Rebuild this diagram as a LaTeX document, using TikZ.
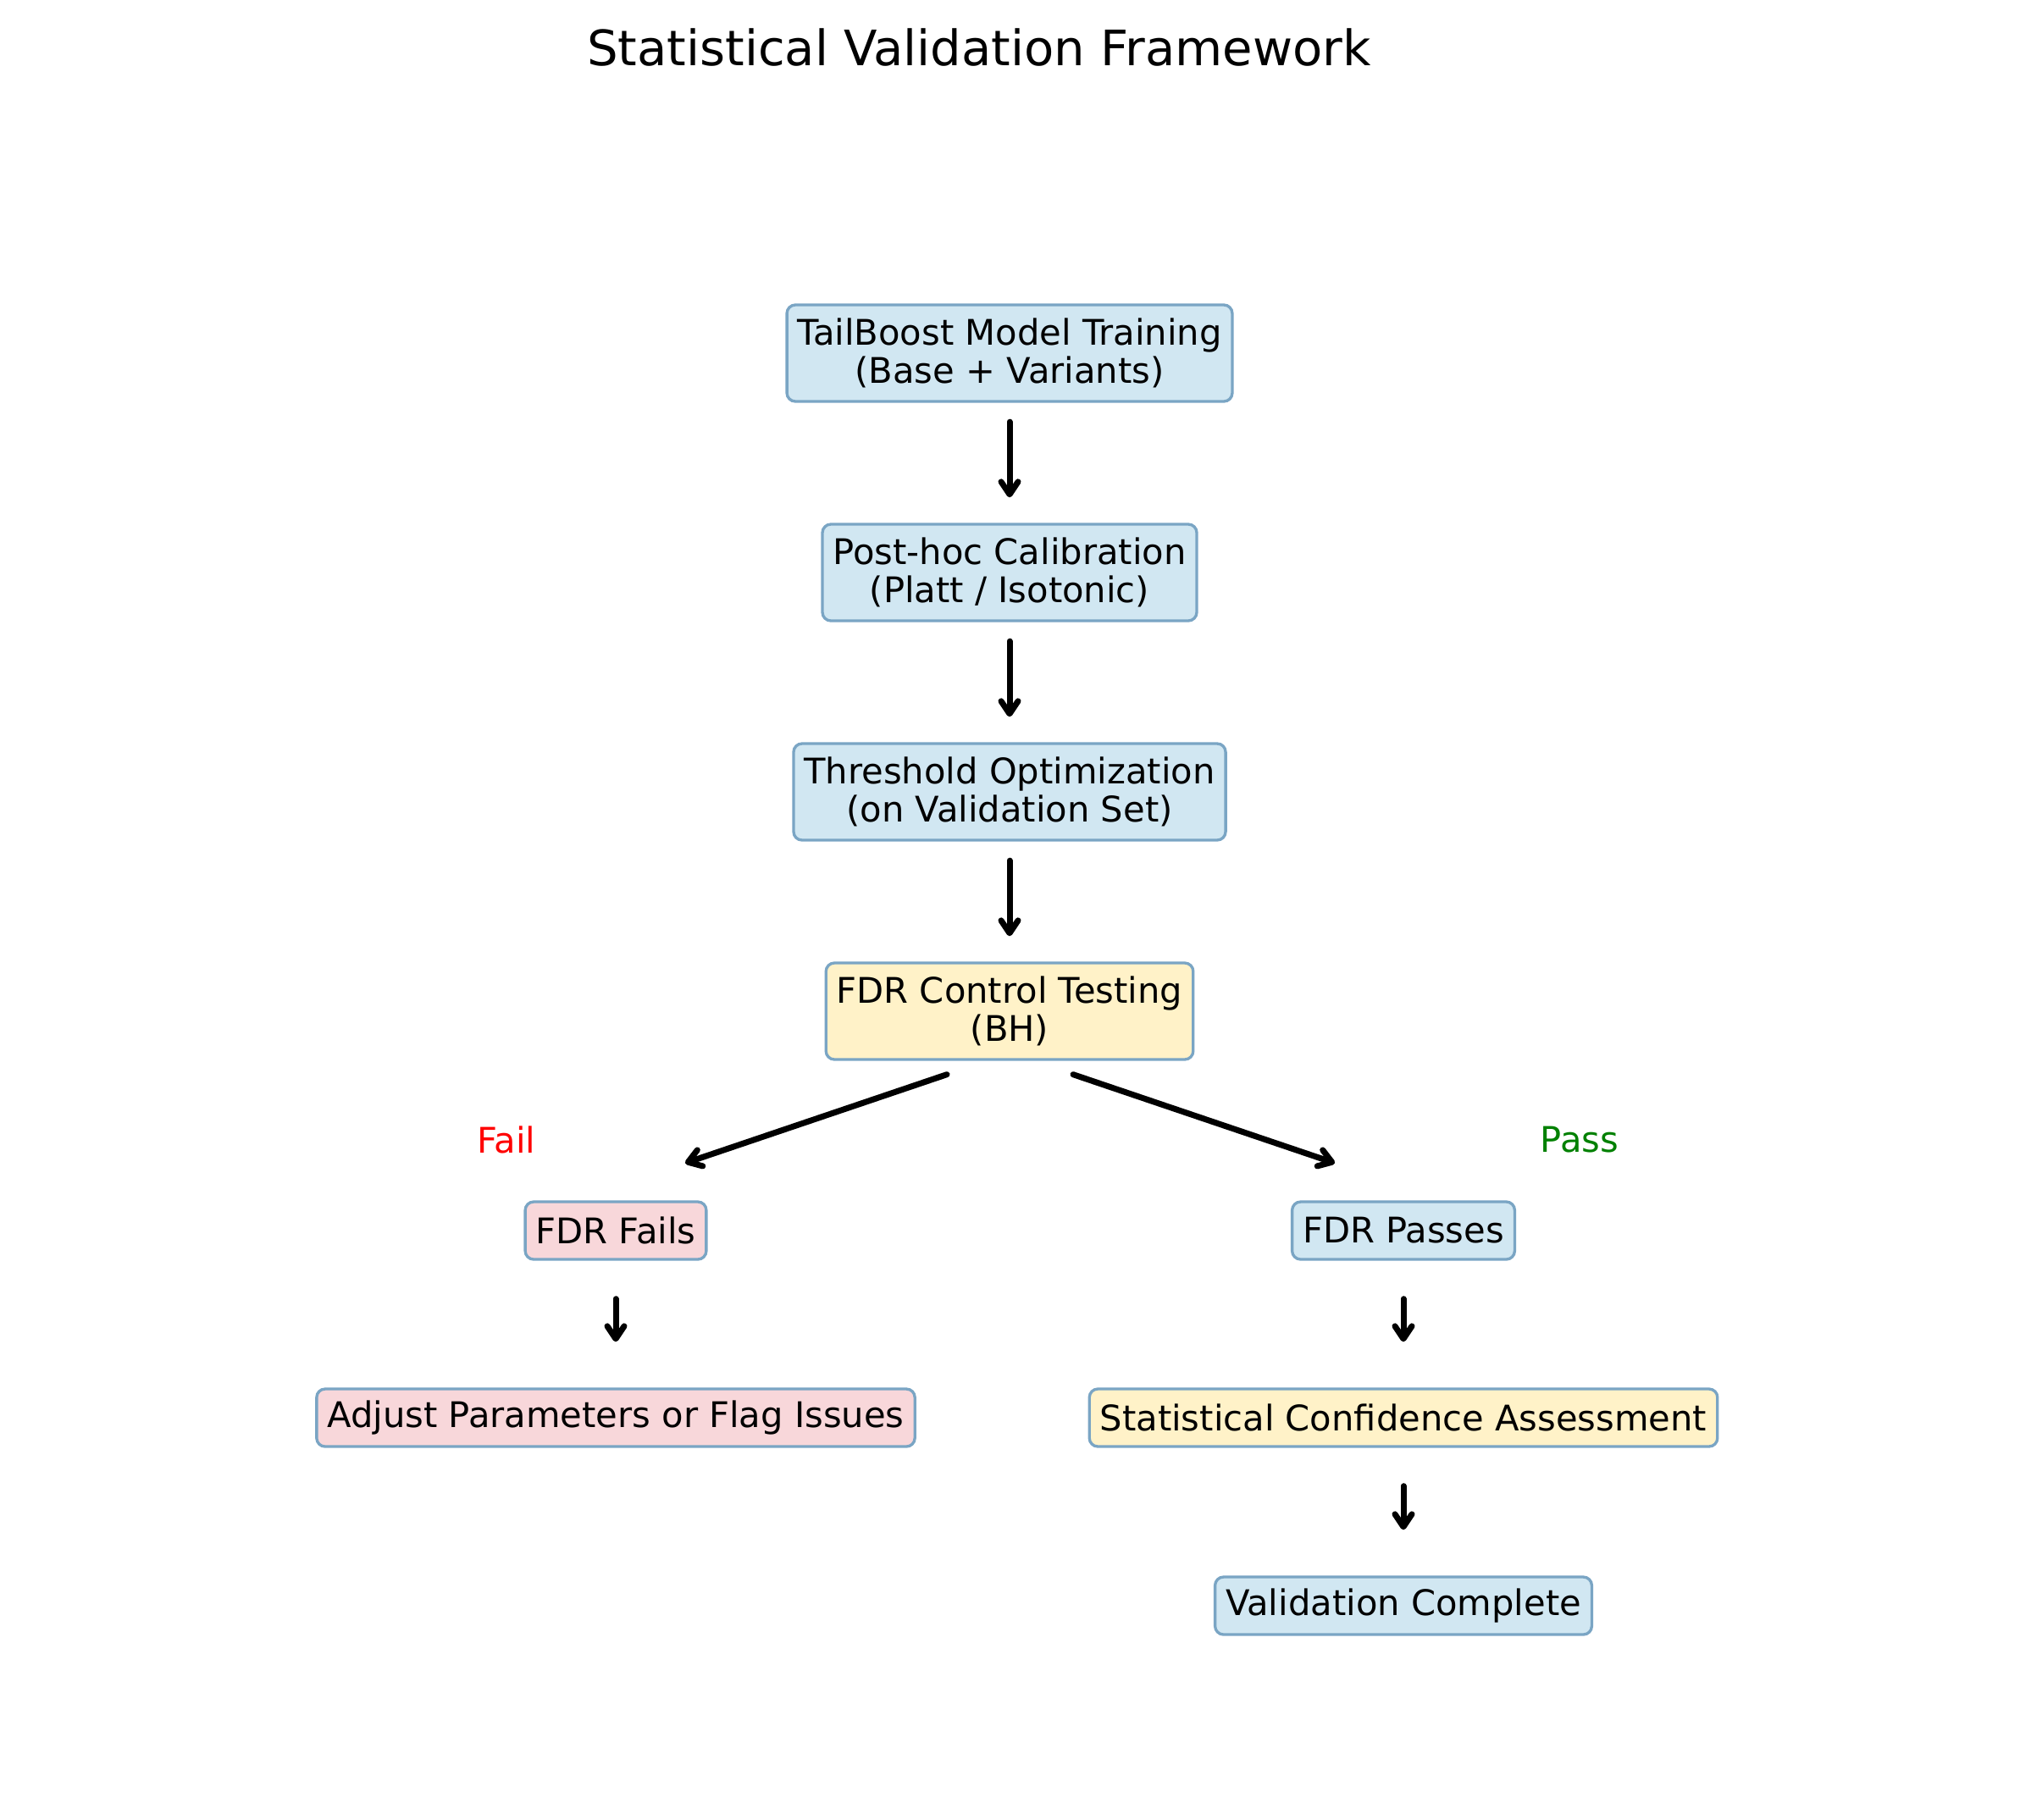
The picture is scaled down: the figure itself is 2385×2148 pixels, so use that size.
\documentclass[tikz,border=0pt]{standalone}
\usepackage{fontspec}
\setmainfont{DejaVu Sans}
\usetikzlibrary{arrows.meta}
\definecolor{boxline}{RGB}{122,165,196}
\definecolor{bluefill}{RGB}{209,231,242}
\definecolor{yellowfill}{RGB}{255,242,200}
\definecolor{pinkfill}{RGB}{248,215,218}
\definecolor{passgreen}{RGB}{0,128,0}

\begin{document}
\begin{tikzpicture}[x=0.3pt,y=-0.3pt,>={Straight Barb[length=4.5pt,width=6pt,line cap=round,line join=round]}]
  \tikzset{every node/.style={font=\fontsize{12.5}{13.6}\selectfont},
    stage/.style={draw=boxline,line width=1pt,rounded corners=3pt,fill=bluefill,
      align=center,inner xsep=3.75pt,inner ysep=0pt,minimum height=20.4pt},
    tall/.style={minimum height=34.2pt},
    warn/.style={fill=yellowfill},
    bad/.style={fill=pinkfill},
    flow/.style={->,line width=2.1pt,line cap=round}}
  \useasboundingbox (0,0) rectangle (2385,2148);
  \node[font=\fontsize{17.3}{20}\selectfont] (title) at (1156,56) {Statistical Validation Framework};
  \node[stage,tall]      (train)  at (1192,417)  {TailBoost Model Training\\(Base + Variants)};
  \node[stage,tall]      (calib)  at (1192,676)  {Post-hoc Calibration\\(Platt / Isotonic)};
  \node[stage,tall]      (thresh) at (1192,935)  {Threshold Optimization\\(on Validation Set)};
  \node[stage,tall,warn] (fdr)    at (1192,1194) {FDR Control Testing\\(BH)};
  \node[stage,bad]       (fails)  at (727,1453)  {FDR Fails};
  \node[stage]           (passes) at (1657,1453) {FDR Passes};
  \node[stage,bad]       (adjust) at (727,1674)  {Adjust Parameters or Flag Issues};
  \node[stage,warn]      (conf)   at (1657,1674) {Statistical Confidence Assessment};
  \node[stage]           (done)   at (1657,1896) {Validation Complete};
  \node[text=red]       (faillbl) at (598,1346)  {Fail};
  \node[text=passgreen] (passlbl) at (1865,1346) {Pass};
  \path[flow,shorten <=6.75pt,shorten >=9pt] (train) edge (calib)
    (calib) edge (thresh)
    (thresh) edge (fdr);
  \draw[flow] ([shift={(-74,16)}]fdr.south) -- ([shift={(82,-44)}]fails.north);
  \draw[flow] ([shift={(75,16)}]fdr.south) -- ([shift={(-81,-44)}]passes.north);
  \path[flow,shorten <=13.5pt,shorten >=16.2pt] (fails) edge (adjust)
    (passes) edge (conf)
    (conf) edge (done);
\end{tikzpicture}
\end{document}
